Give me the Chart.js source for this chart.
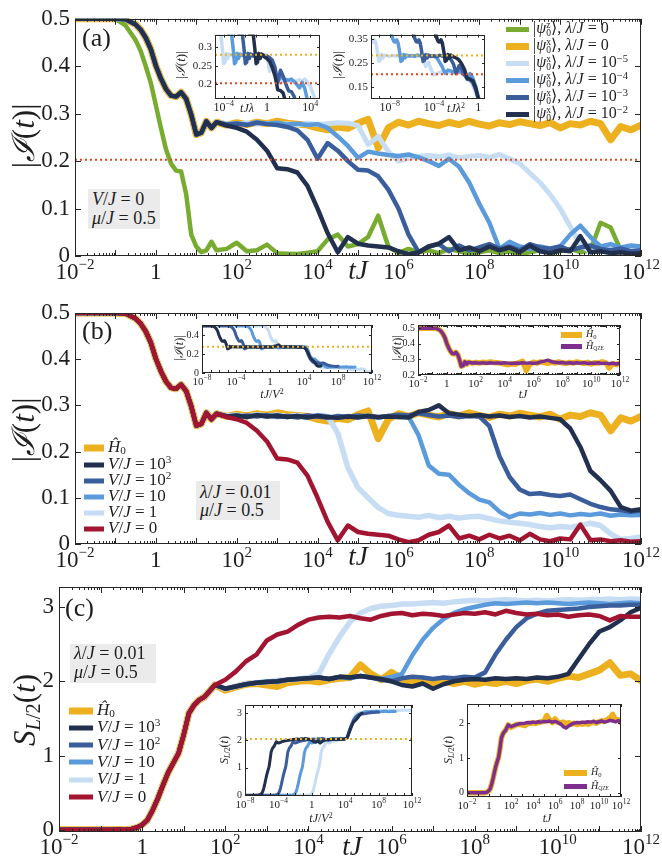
<!DOCTYPE html>
<html>
<head>
<meta charset="utf-8">
<script src="https://cdn.jsdelivr.net/npm/chart.js@4/dist/chart.umd.min.js"></script>
<style>
body { margin: 0; background: #fff; }
#fig { position: relative; width: 662px; height: 859px; overflow: hidden; font-family: "Liberation Serif", "DejaVu Serif", serif; color: #1e1e1e; }
#fig canvas { position: absolute; }
.o { position: absolute; white-space: nowrap; line-height: 1; z-index: 5; transform: translateY(-50%); }
.c { position: absolute; white-space: nowrap; line-height: 1; z-index: 5; transform: translate(-50%, -50%); }
.yt { position: absolute; white-space: nowrap; line-height: 1; z-index: 5; transform: translate(-50%, -50%) rotate(-90deg); }
.box { position: absolute; background: #ebebeb; z-index: 4; }
.sw { display: inline-block; vertical-align: middle; margin-right: 4px; }
sup { font-size: 0.66em; vertical-align: 0.5em; line-height: 0; }
sub { font-size: 0.66em; vertical-align: -0.25em; line-height: 0; }
.ss { display: inline-block; vertical-align: middle; font-size: 0.6em; line-height: 0.9; }
</style>
</head>
<body>
<div id="fig">
  <!-- panel (a) -->
  <div class="o" style="left:82px;top:38px;font-size:26px">(a)</div>
  <div class="yt" style="left:23px;top:136px;font-size:31px">|<i>ℐ</i>(<i>t</i>)|</div>
  <div class="c" style="left:358px;top:270px;font-size:27px"><i>tJ</i></div>
  <div class="box" style="left:88px;top:189px;width:72px;height:40px"></div>
  <div class="o" style="left:92px;top:199px;font-size:18px"><i>V</i>/<i>J</i> = 0</div>
  <div class="o" style="left:92px;top:218px;font-size:18px"><i>μ</i>/<i>J</i> = 0.5</div>
  <div class="o" style="left:506px;top:29px;font-size:16px"><span class="sw" style="width:23px;height:5px;background:#77ac30"></span>|<i>ψ</i><span class="ss">z<br>0</span>⟩, <i>λ</i>/<i>J</i> = 0</div>
  <div class="o" style="left:506px;top:46px;font-size:16px"><span class="sw" style="width:23px;height:7px;background:#edb120"></span>|<i>ψ</i><span class="ss">x<br>0</span>⟩, <i>λ</i>/<i>J</i> = 0</div>
  <div class="o" style="left:506px;top:63px;font-size:16px"><span class="sw" style="width:23px;height:5px;background:#c6ddf3"></span>|<i>ψ</i><span class="ss">x<br>0</span>⟩, <i>λ</i>/<i>J</i> = 10<sup>−5</sup></div>
  <div class="o" style="left:506px;top:80px;font-size:16px"><span class="sw" style="width:23px;height:5px;background:#5b9bdb"></span>|<i>ψ</i><span class="ss">x<br>0</span>⟩, <i>λ</i>/<i>J</i> = 10<sup>−4</sup></div>
  <div class="o" style="left:506px;top:97px;font-size:16px"><span class="sw" style="width:23px;height:5px;background:#3a5d9c"></span>|<i>ψ</i><span class="ss">x<br>0</span>⟩, <i>λ</i>/<i>J</i> = 10<sup>−3</sup></div>
  <div class="o" style="left:506px;top:114px;font-size:16px"><span class="sw" style="width:23px;height:5px;background:#22304f"></span>|<i>ψ</i><span class="ss">x<br>0</span>⟩, <i>λ</i>/<i>J</i> = 10<sup>−2</sup></div>
  <div class="yt" style="left:180px;top:65px;font-size:13px">|<i>ℐ</i>(<i>t</i>)|</div>
  <div class="c" style="left:247px;top:108px;font-size:12px"><i>tJλ</i></div>
  <div class="yt" style="left:337px;top:65px;font-size:13px">|<i>ℐ</i>(<i>t</i>)|</div>
  <div class="c" style="left:456px;top:108px;font-size:12px"><i>tJλ</i><sup>2</sup></div>

  <!-- panel (b) -->
  <div class="o" style="left:82px;top:331px;font-size:26px">(b)</div>
  <div class="yt" style="left:23px;top:430px;font-size:31px">|<i>ℐ</i>(<i>t</i>)|</div>
  <div class="c" style="left:358px;top:556px;font-size:27px"><i>tJ</i></div>
  <div class="box" style="left:196px;top:481px;width:84px;height:39px"></div>
  <div class="o" style="left:200px;top:492px;font-size:18px"><i>λ</i>/<i>J</i> = 0.01</div>
  <div class="o" style="left:200px;top:510px;font-size:18px"><i>μ</i>/<i>J</i> = 0.5</div>
  <div class="o" style="left:84px;top:446px;font-size:17px"><span class="sw" style="width:20px;height:7px;background:#edb120"></span><i>Ĥ</i><sub>0</sub></div>
  <div class="o" style="left:84px;top:463px;font-size:17px"><span class="sw" style="width:20px;height:5px;background:#22304f"></span><i>V</i>/<i>J</i> = 10<sup>3</sup></div>
  <div class="o" style="left:84px;top:479px;font-size:17px"><span class="sw" style="width:20px;height:5px;background:#3a5d9c"></span><i>V</i>/<i>J</i> = 10<sup>2</sup></div>
  <div class="o" style="left:84px;top:495px;font-size:17px"><span class="sw" style="width:20px;height:5px;background:#5b9bdb"></span><i>V</i>/<i>J</i> = 10</div>
  <div class="o" style="left:84px;top:511px;font-size:17px"><span class="sw" style="width:20px;height:5px;background:#c6ddf3"></span><i>V</i>/<i>J</i> = 1</div>
  <div class="o" style="left:84px;top:527px;font-size:17px"><span class="sw" style="width:20px;height:5px;background:#a2142f"></span><i>V</i>/<i>J</i> = 0</div>
  <div class="yt" style="left:179px;top:348px;font-size:12px">|<i>ℐ</i>(<i>t</i>)|</div>
  <div class="c" style="left:272px;top:394px;font-size:12px"><i>tJ</i>/<i>V</i><sup>2</sup></div>
  <div class="yt" style="left:397px;top:348px;font-size:12px">|<i>ℐ</i>(<i>t</i>)|</div>
  <div class="c" style="left:523px;top:394px;font-size:12px"><i>tJ</i></div>
  <div class="o" style="left:561px;top:334px;font-size:10px"><span class="sw" style="width:21px;height:6px;background:#edb120"></span><i>Ĥ</i><sub>0</sub></div>
  <div class="o" style="left:561px;top:346px;font-size:10px"><span class="sw" style="width:21px;height:5px;background:#7e2f8e"></span><i>Ĥ</i><sub style="font-size:0.55em">QZE</sub></div>

  <!-- panel (c) -->
  <div class="o" style="left:65px;top:608px;font-size:26px">(c)</div>
  <div class="yt" style="left:24px;top:710px;font-size:31px"><i>S</i><sub><i>L</i>/2</sub>(<i>t</i>)</div>
  <div class="c" style="left:352px;top:846px;font-size:27px"><i>tJ</i></div>
  <div class="box" style="left:70px;top:644px;width:86px;height:39px"></div>
  <div class="o" style="left:74px;top:653px;font-size:18px"><i>λ</i>/<i>J</i> = 0.01</div>
  <div class="o" style="left:74px;top:672px;font-size:18px"><i>μ</i>/<i>J</i> = 0.5</div>
  <div class="o" style="left:69px;top:709px;font-size:17px"><span class="sw" style="width:24px;height:7px;background:#edb120"></span><i>Ĥ</i><sub>0</sub></div>
  <div class="o" style="left:69px;top:726px;font-size:17px"><span class="sw" style="width:24px;height:5px;background:#22304f"></span><i>V</i>/<i>J</i> = 10<sup>3</sup></div>
  <div class="o" style="left:69px;top:743.5px;font-size:17px"><span class="sw" style="width:24px;height:5px;background:#3a5d9c"></span><i>V</i>/<i>J</i> = 10<sup>2</sup></div>
  <div class="o" style="left:69px;top:760.5px;font-size:17px"><span class="sw" style="width:24px;height:5px;background:#5b9bdb"></span><i>V</i>/<i>J</i> = 10</div>
  <div class="o" style="left:69px;top:778px;font-size:17px"><span class="sw" style="width:24px;height:5px;background:#c6ddf3"></span><i>V</i>/<i>J</i> = 1</div>
  <div class="o" style="left:69px;top:795.5px;font-size:17px"><span class="sw" style="width:24px;height:5px;background:#a2142f"></span><i>V</i>/<i>J</i> = 0</div>
  <div class="yt" style="left:224px;top:750px;font-size:12px"><i>S</i><sub><i>L</i>/2</sub>(<i>t</i>)</div>
  <div class="c" style="left:321px;top:818px;font-size:12px"><i>tJ</i>/<i>V</i><sup>2</sup></div>
  <div class="yt" style="left:448px;top:750px;font-size:12px"><i>S</i><sub><i>L</i>/2</sub>(<i>t</i>)</div>
  <div class="c" style="left:547px;top:818px;font-size:12px"><i>tJ</i></div>
  <div class="o" style="left:564px;top:772px;font-size:10px"><span class="sw" style="width:23px;height:6px;background:#edb120"></span><i>Ĥ</i><sub>0</sub></div>
  <div class="o" style="left:564px;top:786px;font-size:10px"><span class="sw" style="width:23px;height:5px;background:#7e2f8e"></span><i>Ĥ</i><sub style="font-size:0.55em">QZE</sub></div>
</div>

<script>
// log10(tJ) sample points shared by every curve
const logT = [-2, -1.5, -1, -0.75, -0.5, -0.375, -0.25, -0.125, 0, 0.125, 0.25, 0.375, 0.5, 0.625, 0.75, 0.875, 1, 1.125, 1.25, 1.375, 1.5,
  1.75, 2, 2.25, 2.5, 2.75, 3, 3.25, 3.5, 3.75, 4, 4.25, 4.5, 4.75, 5, 5.25, 5.5, 5.75, 6, 6.25, 6.5, 6.75, 7, 7.25, 7.5, 7.75,
  8, 8.25, 8.5, 8.75, 9, 9.25, 9.5, 9.75, 10, 10.25, 10.5, 10.75, 11, 11.25, 11.5, 11.75, 12];

// |I(t)| early decay, same for all |psi_0^x> runs (tJ <= 10^1.5)
const imbEarly = [0.5, 0.5, 0.5, 0.499, 0.488, 0.477, 0.46, 0.436, 0.401, 0.374, 0.352, 0.338, 0.336, 0.345, 0.331, 0.298, 0.256, 0.26, 0.284, 0.27, 0.282];

const imbZ0 = [0.5, 0.5, 0.5, 0.486, 0.455, 0.432, 0.4, 0.365, 0.318, 0.27, 0.225, 0.195, 0.18, 0.178, 0.13, 0.045, 0.02, 0.008, 0.012, 0.03, 0.012,
  0.015, 0.028, 0.01, 0.012, 0.024, 0.006, 0.005, 0.004, 0.007, 0.01, 0.035, 0.045, 0.02, 0.025, 0.04, 0.085, 0.02, 0.006, 0.015, 0.008, 0.012,
  0.006, 0.015, 0.01, 0.005, 0.008, 0.012, 0.006, 0.01, 0.004, 0.008, 0.012, 0.006, 0.01, 0.015, 0.008, 0.012, 0.07, 0.06, 0.012, 0.02, 0.015];
const imbH0 = [...imbEarly, 0.276, 0.281, 0.277, 0.282, 0.279, 0.284, 0.28, 0.278, 0.276, 0.27, 0.266, 0.272, 0.269, 0.28, 0.288, 0.228, 0.27,
  0.282, 0.276, 0.284, 0.279, 0.275, 0.282, 0.277, 0.284, 0.278, 0.274, 0.281, 0.277, 0.283, 0.279, 0.275, 0.281, 0.27, 0.279, 0.276, 0.284,
  0.279, 0.245, 0.273, 0.266, 0.276];
const imbL5 = [...imbEarly, 0.279, 0.277, 0.281, 0.278, 0.28, 0.277, 0.279, 0.276, 0.28, 0.277, 0.279, 0.281, 0.28, 0.275, 0.235, 0.252, 0.22,
  0.2, 0.206, 0.21, 0.212, 0.209, 0.213, 0.207, 0.21, 0.212, 0.208, 0.214, 0.205, 0.195, 0.175, 0.155, 0.13, 0.1, 0.062, 0.025, 0.008, 0.02,
  0.015, 0.012, 0.018, 0.015];
const imbL4 = [...imbEarly, 0.278, 0.28, 0.277, 0.282, 0.279, 0.281, 0.277, 0.279, 0.276, 0.278, 0.27, 0.252, 0.232, 0.207, 0.22, 0.216, 0.213,
  0.211, 0.214, 0.208, 0.2, 0.19, 0.205, 0.188, 0.155, 0.11, 0.07, 0.015, 0.03, 0.02, 0.015, 0.02, 0.016, 0.02, 0.045, 0.064, 0.04, 0.02,
  0.025, 0.018, 0.022, 0.02];
const imbL3 = [...imbEarly, 0.277, 0.279, 0.276, 0.281, 0.278, 0.276, 0.272, 0.265, 0.245, 0.205, 0.238, 0.222, 0.2, 0.182, 0.18, 0.168, 0.14,
  0.1, 0.045, 0.008, 0.02, 0.025, 0.01, 0.022, 0.012, 0.018, 0.025, 0.015, 0.02, 0.012, 0.025, 0.018, 0.015, 0.02, 0.012, 0.018, 0.022,
  0.015, 0.012, 0.016, 0.01, 0.012];
// lambda/J = 1e-2, V/J = 0 (also the V/J = 0 curve of panel b)
const imbL2 = [...imbEarly, 0.275, 0.27, 0.262, 0.245, 0.222, 0.185, 0.183, 0.176, 0.148, 0.1, 0.048, 0.008, 0.04, 0.026, 0.022, 0.02, 0.018,
  0.01, 0.004, 0.008, 0.02, 0.026, 0.04, 0.012, 0.018, 0.01, 0.02, 0.012, 0.018, 0.008, 0.022, 0.01, 0.006, 0.012, 0.01, 0.042, 0.008, 0.01,
  0.006, 0.008, 0.005, 0.006];
const imbV1 = [...imbEarly, 0.277, 0.279, 0.276, 0.28, 0.277, 0.279, 0.276, 0.278, 0.275, 0.277, 0.276, 0.24, 0.165, 0.122, 0.1, 0.079, 0.066,
  0.062, 0.06, 0.058, 0.062, 0.057, 0.06, 0.056, 0.059, 0.06, 0.055, 0.05, 0.047, 0.045, 0.042, 0.038, 0.035, 0.038, 0.036, 0.04, 0.045,
  0.04, 0.022, 0.01, 0.012, 0.015];
const imbV10 = [...imbEarly, 0.276, 0.278, 0.275, 0.279, 0.276, 0.278, 0.275, 0.277, 0.274, 0.279, 0.276, 0.273, 0.277, 0.275, 0.278, 0.274,
  0.277, 0.275, 0.276, 0.235, 0.17, 0.152, 0.15, 0.128, 0.11, 0.096, 0.09, 0.07, 0.058, 0.066, 0.064, 0.067, 0.063, 0.066, 0.062, 0.065,
  0.063, 0.066, 0.061, 0.064, 0.062, 0.063];
const imbV100 = [...imbEarly, 0.277, 0.275, 0.278, 0.276, 0.279, 0.275, 0.277, 0.274, 0.278, 0.276, 0.273, 0.277, 0.275, 0.278, 0.276, 0.274,
  0.277, 0.28, 0.278, 0.283, 0.279, 0.276, 0.278, 0.275, 0.277, 0.276, 0.255, 0.19, 0.145, 0.118, 0.108, 0.11, 0.106, 0.104, 0.107, 0.097,
  0.087, 0.08, 0.075, 0.073, 0.07, 0.072];
const imbV1000 = [...imbEarly, 0.276, 0.278, 0.275, 0.279, 0.276, 0.278, 0.275, 0.277, 0.274, 0.277, 0.275, 0.273, 0.276, 0.274, 0.277, 0.275,
  0.276, 0.275, 0.274, 0.286, 0.29, 0.3, 0.283, 0.28, 0.277, 0.279, 0.276, 0.278, 0.275, 0.277, 0.274, 0.276, 0.273, 0.27, 0.25, 0.21, 0.158,
  0.138, 0.115, 0.08, 0.072, 0.075];
const imbQZE = [...imbEarly, 0.277, 0.279, 0.276, 0.278, 0.275, 0.278, 0.276, 0.277, 0.275, 0.278, 0.276, 0.274, 0.277, 0.275, 0.278, 0.276,
  0.277, 0.275, 0.276, 0.284, 0.289, 0.295, 0.285, 0.281, 0.278, 0.28, 0.276, 0.279, 0.275, 0.278, 0.276, 0.279, 0.274, 0.277, 0.275, 0.278,
  0.273, 0.276, 0.272, 0.275, 0.27, 0.276];

// half-chain entanglement entropy S_L/2
const entEarly = [0, 0, 0, 0, 0.002, 0.005, 0.012, 0.03, 0.065, 0.13, 0.26, 0.42, 0.6, 0.77, 0.9, 1.03, 1.28, 1.57, 1.68, 1.75, 1.79];
const entH0 = [...entEarly, 1.95, 1.88, 1.92, 1.96, 1.97, 1.95, 1.93, 1.98, 2.0, 2.01, 1.99, 2.02, 2.04, 2.05, 2.22, 2.1, 2.02, 2.12, 2.03, 2.0,
  2.03, 1.98, 2.01, 1.97, 2.0, 1.96, 1.99, 1.97, 2.0, 1.97, 2.01, 2.03, 2.0, 2.04, 2.07, 2.05, 2.1, 2.15, 2.25, 2.08, 2.1, 2.01];
const entV0 = [...entEarly, 1.95, 2.02, 2.13, 2.27, 2.36, 2.55, 2.63, 2.67, 2.76, 2.83, 2.86, 2.87, 2.86, 2.88, 2.85, 2.83, 2.88, 2.91, 2.92,
  2.89, 2.91, 2.9, 2.88, 2.9, 2.92, 2.91, 2.93, 2.9, 2.95, 2.92, 2.9, 2.91, 2.89, 2.9, 2.87, 2.89, 2.9, 2.88, 2.82, 2.88, 2.87, 2.87];
const entV1 = [...entEarly, 1.95, 1.9, 1.93, 1.97, 1.98, 1.99, 2.01, 2.02, 2.03, 2.05, 2.1, 2.37, 2.6, 2.8, 2.92, 2.98, 3.01, 3.02, 3.04, 3.04,
  3.05, 3.06, 3.05, 3.07, 3.08, 3.09, 3.08, 3.09, 3.1, 3.09, 3.08, 3.09, 3.08, 3.09, 3.1, 3.09, 3.1, 3.1, 3.11, 3.1, 3.11, 3.1];
const entV10 = [...entEarly, 1.95, 1.9, 1.93, 1.96, 1.98, 2.0, 1.99, 2.02, 2.03, 2.04, 2.05, 2.03, 2.06, 2.04, 2.07, 2.05, 2.03, 2.06, 2.1,
  2.35, 2.56, 2.72, 2.84, 2.92, 2.97, 3.0, 3.03, 3.05, 3.04, 3.05, 3.06, 3.05, 3.06, 3.05, 3.04, 3.05, 3.06, 3.05, 3.04, 3.05, 3.06, 3.05];
const entV100 = [...entEarly, 1.95, 1.9, 1.93, 1.96, 1.98, 1.99, 2.0, 2.02, 2.03, 2.04, 2.05, 2.03, 2.06, 2.05, 2.07, 2.05, 2.02, 2.0, 2.04,
  2.06, 2.05, 2.03, 2.05, 2.04, 2.06, 2.05, 2.12, 2.36, 2.56, 2.73, 2.85, 2.91, 2.95, 2.96, 2.97, 2.98, 3.0, 3.01, 3.02, 3.02, 3.03, 3.03];
const entV1000 = [...entEarly, 1.95, 1.9, 1.93, 1.96, 1.98, 1.99, 2.0, 2.02, 2.03, 2.04, 2.05, 2.03, 2.06, 2.05, 2.07, 2.05, 2.03, 2.0, 1.95,
  1.93, 1.97, 1.9, 1.96, 2.0, 2.02, 2.03, 2.02, 2.04, 2.03, 2.04, 2.03, 2.05, 2.04, 2.06, 2.1, 2.3, 2.5, 2.67, 2.73, 2.82, 2.93, 2.99];
const entQZE = [...entEarly, 1.95, 1.9, 1.93, 1.96, 1.98, 1.99, 2.0, 2.02, 2.01, 2.03, 2.02, 2.04, 2.03, 2.05, 2.04, 2.06, 2.03, 2.05, 2.02,
  1.98, 1.9, 1.86, 1.92, 1.97, 2.0, 2.02, 2.01, 2.03, 2.02, 2.04, 2.03, 2.05, 2.02, 2.04, 2.06, 2.03, 2.05, 2.08, 2.06, 2.04, 2.07, 2.05];

// reference levels (dotted lines)
const imbCrit = 0.203;
const imbPlateau = 0.28;
const entPlateau = 2.05;

// rescaling exponents for the insets
const lamExp = [-5, -4, -3, -2];   // log10(lambda/J)
const vExp = [3, 2, 1, 0];         // log10(V/J)

// tick values
const yTicksMain = [0, 0.1, 0.2, 0.3, 0.4, 0.5];
const yTicksC = [0, 1, 2, 3];
const xLabMain = [-2, 0, 2, 4, 6, 8, 10, 12];

const SERIF = '"Liberation Serif", "DejaVu Serif", serif';
const INK = '#1e1e1e';
const NAVY = '#22304f', BLUE3 = '#3a5d9c', BLUE2 = '#5b9bdb', BLUE1 = '#c6ddf3';
const YEL = '#edb120', GRN = '#77ac30', CRIM = '#a2142f', PURP = '#7e2f8e', RED = '#e2461d';

const pts = (vals, shift = 0) => vals.map((v, i) => ({ x: Math.pow(10, logT[i] + shift), y: v }));
const ser = (vals, color, w, order, shift = 0) => ({
  data: pts(vals, shift), borderColor: color, borderWidth: w, order,
  pointRadius: 0, tension: 0, borderJoinStyle: 'round', borderCapStyle: 'round'
});
const hline = (y, color, x0, x1, w = 2) => ({
  data: [{ x: x0, y }, { x: x1, y }], borderColor: color, borderWidth: w, borderDash: [2, 3], order: -1, pointRadius: 0
});

const framePlugin = {
  id: 'frame',
  beforeDraw(chart, args, o) {
    if (!o.fill) return;
    const a = chart.chartArea, ctx = chart.ctx;
    ctx.save();
    ctx.fillStyle = '#fff';
    ctx.fillRect(a.left, a.top, a.right - a.left, a.bottom - a.top);
    ctx.restore();
  },
  afterDraw(chart, args, o) {
    const { ctx, chartArea: a } = chart;
    const x = chart.scales.x, y = chart.scales.y;
    ctx.save();
    ctx.strokeStyle = '#262626';
    ctx.lineWidth = 1;
    ctx.beginPath();
    const seg = (x0, y0, x1, y1) => { ctx.moveTo(x0, y0); ctx.lineTo(x1, y1); };
    // log ticks, inward, top and bottom
    const l0 = Math.log10(x.min), l1 = Math.log10(x.max);
    const perDec = (a.right - a.left) / (l1 - l0);
    for (let k = Math.floor(l0); k <= Math.ceil(l1); k++) {
      for (let m = 1; m < 10; m++) {
        if (m > 1 && perDec < 14) continue;
        const v = m * Math.pow(10, k);
        if (v < x.min * 0.999 || v > x.max * 1.001) continue;
        const px = Math.round(x.getPixelForValue(v)) + 0.5;
        const len = m === 1 ? o.major : o.minor;
        seg(px, a.bottom, px, a.bottom - len);
        seg(px, a.top, px, a.top + len);
      }
    }
    y.ticks.forEach(t => {
      const py = Math.round(y.getPixelForValue(t.value)) + 0.5;
      seg(a.left, py, a.left + o.major, py);
      seg(a.right, py, a.right - o.major, py);
    });
    ctx.stroke();
    ctx.strokeRect(Math.round(a.left) + 0.5, Math.round(a.top) + 0.5, Math.round(a.right - a.left) - 1, Math.round(a.bottom - a.top) - 1);
    // x labels written as 10^k
    ctx.fillStyle = INK;
    ctx.textBaseline = 'alphabetic';
    o.xLabels.forEach(e => {
      const px = x.getPixelForValue(Math.pow(10, e));
      const base = a.bottom + o.lblY;
      ctx.font = o.lfs + 'px ' + SERIF;
      if (e === 0) { ctx.textAlign = 'center'; ctx.fillText('1', px, base); return; }
      const ex = (e < 0 ? '\u2212' : '') + Math.abs(e);
      const w1 = ctx.measureText('10').width;
      ctx.font = o.sfs + 'px ' + SERIF;
      const w2 = ctx.measureText(ex).width;
      const x0 = px - (w1 + w2) / 2;
      ctx.textAlign = 'left';
      ctx.font = o.lfs + 'px ' + SERIF;
      ctx.fillText('10', x0, base);
      ctx.font = o.sfs + 'px ' + SERIF;
      ctx.fillText(ex, x0 + w1, base - o.lfs * 0.45);
    });
    ctx.restore();
  }
};

const fig = document.getElementById('fig');

function makeChart(f, m, o) {
  const cv = document.createElement('canvas');
  const W = m.l + f.w + m.r, H = m.t + f.h + m.b;
  cv.width = W; cv.height = H;
  cv.style.width = W + 'px'; cv.style.height = H + 'px';
  cv.style.left = (f.x - m.l) + 'px'; cv.style.top = (f.y - m.t) + 'px';
  fig.appendChild(cv);
  return new Chart(cv, {
    type: 'line',
    data: { datasets: o.datasets },
    options: {
      responsive: false, animation: false, devicePixelRatio: 1, events: [],
      layout: { padding: { left: 0, top: m.t, right: m.r, bottom: 0 } },
      plugins: {
        legend: { display: false }, tooltip: { enabled: false },
        frame: { fill: !!o.fill, major: o.major || 6, minor: o.minor || 3, xLabels: o.xLabels, lfs: o.lfs, sfs: o.sfs, lblY: o.lblY }
      },
      scales: {
        x: {
          type: 'logarithmic', min: o.xmin, max: o.xmax,
          grid: { display: false, drawTicks: false }, border: { display: false },
          ticks: { display: false },
          afterBuildTicks: s => { s.ticks = o.xLabels.map(e => ({ value: Math.pow(10, e) })); },
          afterFit: s => { s.height = m.b; }
        },
        y: {
          type: 'linear', min: o.ymin, max: o.ymax,
          grid: { display: false, drawTicks: false }, border: { display: false },
          ticks: { color: INK, font: { family: SERIF, size: o.yfs }, padding: o.ypad, callback: v => String(v) },
          afterBuildTicks: s => { s.ticks = o.yTicks.map(v => ({ value: v })); },
          afterFit: s => { s.width = m.l; }
        }
      }
    },
    plugins: [framePlugin]
  });
}

const mainStyle = { lfs: 23, sfs: 15, lblY: 23, yfs: 23, ypad: 5, major: 6, minor: 3 };

// ---------- panel (a) ----------
makeChart({ x: 75, y: 18, w: 566, h: 238 }, { l: 75, t: 18, r: 21, b: 30 }, Object.assign({}, mainStyle, {
  xmin: 1e-2, xmax: 1e12, ymin: 0, ymax: 0.5, yTicks: yTicksMain, xLabels: xLabMain,
  datasets: [
    ser(imbL2, NAVY, 4.5, 0), ser(imbL3, BLUE3, 4.5, 1), ser(imbL4, BLUE2, 4.5, 2), ser(imbL5, BLUE1, 5, 3),
    ser(imbZ0, GRN, 4.5, 4), ser(imbH0, YEL, 7, 5),
    hline(imbCrit, RED, 1e-2, 1e12)
  ]
}));

const insetA = (f, shiftMul, xmin, xmax, ymin, ymax, yTicks, xLabels) => makeChart(f, { l: 32, t: 5, r: 14, b: 16 }, {
  fill: true, xmin, xmax, ymin, ymax, yTicks, xLabels, lfs: 12, sfs: 8, lblY: 12, yfs: 11, ypad: 3, major: 3, minor: 2,
  datasets: [
    ser(imbL2, NAVY, 3.5, 0, shiftMul * lamExp[3]), ser(imbL3, BLUE3, 3.5, 1, shiftMul * lamExp[2]),
    ser(imbL4, BLUE2, 3.5, 2, shiftMul * lamExp[1]), ser(imbL5, BLUE1, 3.5, 3, shiftMul * lamExp[0]),
    hline(imbPlateau, YEL, xmin, xmax), hline(imbCrit, RED, xmin, xmax)
  ]
});
insetA({ x: 215, y: 30, w: 105, h: 69 }, 1, Math.pow(10, -4.8), Math.pow(10, 4.9), 0.16, 0.335, [0.2, 0.25, 0.3], [-4, 0, 4]);
insetA({ x: 371, y: 30, w: 114, h: 69 }, 2, Math.pow(10, -9.7), Math.pow(10, 0.6), 0.1, 0.367, [0.15, 0.2, 0.25, 0.3, 0.35], [-8, -4, 0]);

// ---------- panel (b) ----------
makeChart({ x: 75, y: 313, w: 566, h: 231 }, { l: 75, t: 23, r: 21, b: 30 }, Object.assign({}, mainStyle, {
  xmin: 1e-2, xmax: 1e12, ymin: 0, ymax: 0.5, yTicks: yTicksMain, xLabels: xLabMain,
  datasets: [
    ser(imbL2, CRIM, 4.5, 0), ser(imbV1000, NAVY, 4.5, 1), ser(imbV100, BLUE3, 4.5, 2), ser(imbV10, BLUE2, 4.5, 3),
    ser(imbV1, BLUE1, 5.5, 4), ser(imbH0, YEL, 7, 5)
  ]
}));

makeChart({ x: 202, y: 321, w: 170, h: 52 }, { l: 22, t: 5, r: 14, b: 16 }, {
  fill: true, xmin: 1e-8, xmax: 1e12, ymin: 0, ymax: 0.51, yTicks: yTicksMain, xLabels: [-8, -4, 0, 4, 8, 12],
  lfs: 11, sfs: 7.5, lblY: 12, yfs: 10, ypad: 3, major: 3, minor: 2,
  datasets: [
    ser(imbV1000, NAVY, 3, 0, -2 * vExp[0]), ser(imbV100, BLUE3, 3, 1, -2 * vExp[1]),
    ser(imbV10, BLUE2, 3, 2, -2 * vExp[2]), ser(imbV1, BLUE1, 3, 3, -2 * vExp[3]),
    hline(imbPlateau, YEL, 1e-8, 1e12)
  ]
});

makeChart({ x: 418, y: 321, w: 202, h: 54 }, { l: 22, t: 5, r: 14, b: 16 }, {
  fill: true, xmin: 1e-2, xmax: 1e12, ymin: 0.2, ymax: 0.52, yTicks: [0.2, 0.3, 0.4, 0.5], xLabels: xLabMain,
  lfs: 11, sfs: 7.5, lblY: 12, yfs: 10, ypad: 3, major: 3, minor: 2,
  datasets: [ser(imbQZE, PURP, 3.5, 0), ser(imbH0, YEL, 5.5, 1)]
});

// ---------- panel (c) ----------
makeChart({ x: 59, y: 587, w: 582, h: 245 }, { l: 59, t: 22, r: 21, b: 27 }, Object.assign({}, mainStyle, {
  xmin: 1e-2, xmax: 1e12, ymin: -0.03, ymax: 3.27, yTicks: yTicksC, xLabels: xLabMain, lblY: 22,
  datasets: [
    ser(entV0, CRIM, 4.5, 0), ser(entV1000, NAVY, 4.5, 1), ser(entV100, BLUE3, 4.5, 2), ser(entV10, BLUE2, 4.5, 3),
    ser(entV1, BLUE1, 5.5, 4), ser(entH0, YEL, 7, 5)
  ]
}));

makeChart({ x: 245, y: 701, w: 167, h: 95 }, { l: 14, t: 5, r: 14, b: 16 }, {
  fill: true, xmin: 1e-8, xmax: 1e12, ymin: -0.03, ymax: 3.29, yTicks: yTicksC, xLabels: [-8, -4, 0, 4, 8, 12],
  lfs: 11, sfs: 7.5, lblY: 12, yfs: 10, ypad: 3, major: 3, minor: 2,
  datasets: [
    ser(entV1000, NAVY, 3, 0, -2 * vExp[0]), ser(entV100, BLUE3, 3, 1, -2 * vExp[1]),
    ser(entV10, BLUE2, 3, 2, -2 * vExp[2]), ser(entV1, BLUE1, 3, 3, -2 * vExp[3]),
    hline(entPlateau, YEL, 1e-8, 1e12)
  ]
});

makeChart({ x: 467, y: 700, w: 154, h: 97 }, { l: 14, t: 5, r: 14, b: 16 }, {
  fill: true, xmin: 1e-2, xmax: 1e12, ymin: -0.12, ymax: 2.55, yTicks: [0, 1, 2], xLabels: xLabMain,
  lfs: 11, sfs: 7.5, lblY: 12, yfs: 10, ypad: 3, major: 3, minor: 2,
  datasets: [ser(entQZE, PURP, 3.5, 0), ser(entH0, YEL, 5.5, 1)]
});
</script>
</body>
</html>
